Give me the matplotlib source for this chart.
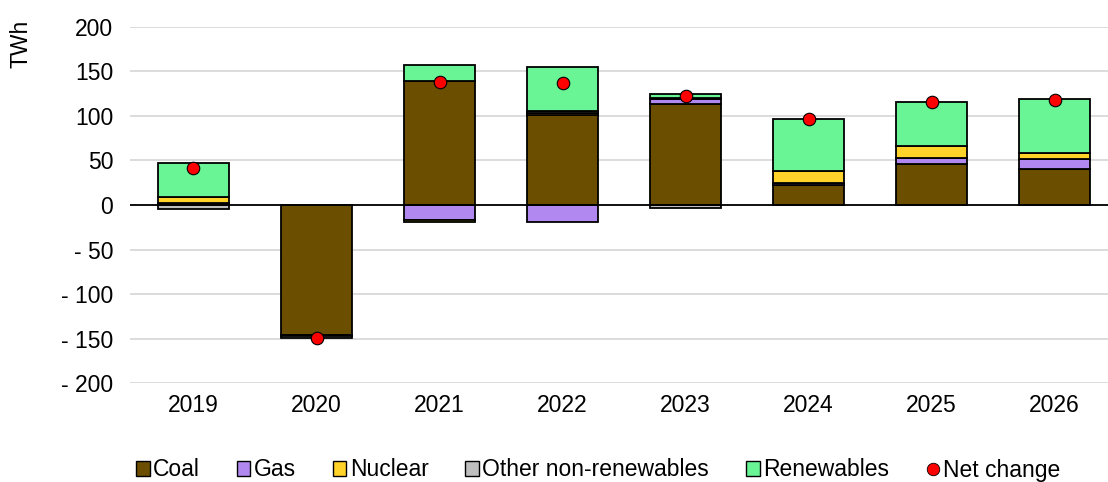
import matplotlib.pyplot as plt
import numpy as np
from matplotlib.patches import Patch
from matplotlib.lines import Line2D
from matplotlib.ticker import FuncFormatter

plt.rcParams['font.family'] = ['Liberation Sans', 'DejaVu Sans']

years = ['2019', '2020', '2021', '2022', '2023', '2024', '2025', '2026']
coal = [2, -146, 139, 101, 113, 22, 46, 40]
gas = [0, 0, -17, -19, 6, 2.5, 7, 11.5]
nuclear = [7, -1.5, -2, 2, 1, 14, 13.5, 6.5]
other = [-5, -1.5, 0, 3, -3, 0, 0, 0]
renewables = [38, 0, 18, 49, 5, 58, 49, 60.5]
net_change = [42, -149, 138, 137, 122, 96, 115, 118]

series = [
    ('Coal', coal, '#6B4E00'),
    ('Gas', gas, '#B088F0'),
    ('Nuclear', nuclear, '#FFD32A'),
    ('Other non-renewables', other, '#BFBFBF'),
    ('Renewables', renewables, '#69F595'),
]

fig = plt.figure(figsize=(11.08, 4.82), dpi=100)
ax = fig.add_axes([130 / 1108, 98.7 / 482, 978 / 1108, 356.6 / 482])

x = np.arange(len(years))
width = 0.577

# Excel-style stacking: positives above zero, negatives below
pos_base = np.zeros(len(years))
neg_base = np.zeros(len(years))
for name, vals, color in series:
    vals = np.array(vals, dtype=float)
    bottoms = np.where(vals >= 0, pos_base, neg_base)
    mask = vals != 0
    ax.bar(x[mask], vals[mask], width, bottom=bottoms[mask], color=color,
           edgecolor='black', linewidth=1.3, zorder=3)
    pos_base = pos_base + np.where(vals > 0, vals, 0)
    neg_base = neg_base + np.where(vals < 0, vals, 0)

ax.plot(x, net_change, 'o', color='#FF0000', markeredgecolor='black',
        markeredgewidth=0.8, markersize=9, zorder=5)

ax.axhline(0, color='black', linewidth=1.3, zorder=4)

ax.set_ylim(-200, 200)
ax.set_xlim(-0.516, 7.433)
ax.set_yticks(np.arange(-200, 201, 50))
ax.yaxis.set_major_formatter(FuncFormatter(lambda v, p: f"- {int(-v)}" if v < 0 else f"{int(v)}"))
ax.set_xticks(x)
ax.set_xticklabels(years)
ax.tick_params(axis='both', length=0, labelsize=16.5)
ax.tick_params(axis='y', pad=12)
ax.tick_params(axis='x', pad=8)
ax.grid(axis='y', color='#D9D9D9', linewidth=1.3, zorder=0)
for s in ax.spines.values():
    s.set_visible(False)

fig.text(21 / 1108, 1 - 44 / 482, 'TWh', rotation=90, ha='center', va='center', fontsize=16.5)

handles = [Patch(facecolor=c, edgecolor='black', linewidth=1.0, label=n) for n, _, c in series]
handles.append(Line2D([], [], marker='o', linestyle='none', color='#FF0000',
                      markeredgecolor='black', markeredgewidth=0.6, markersize=9, label='Net change'))
fig.legend(handles=handles, loc='center', bbox_to_anchor=(598 / 1108, 1 - 470 / 482), ncol=6,
           frameon=False, fontsize=16.5, handlelength=0.6, handleheight=0.6, handletextpad=0.15,
           columnspacing=1.6)

plt.savefig('out.png', dpi=100, facecolor='white')
plt.close()
